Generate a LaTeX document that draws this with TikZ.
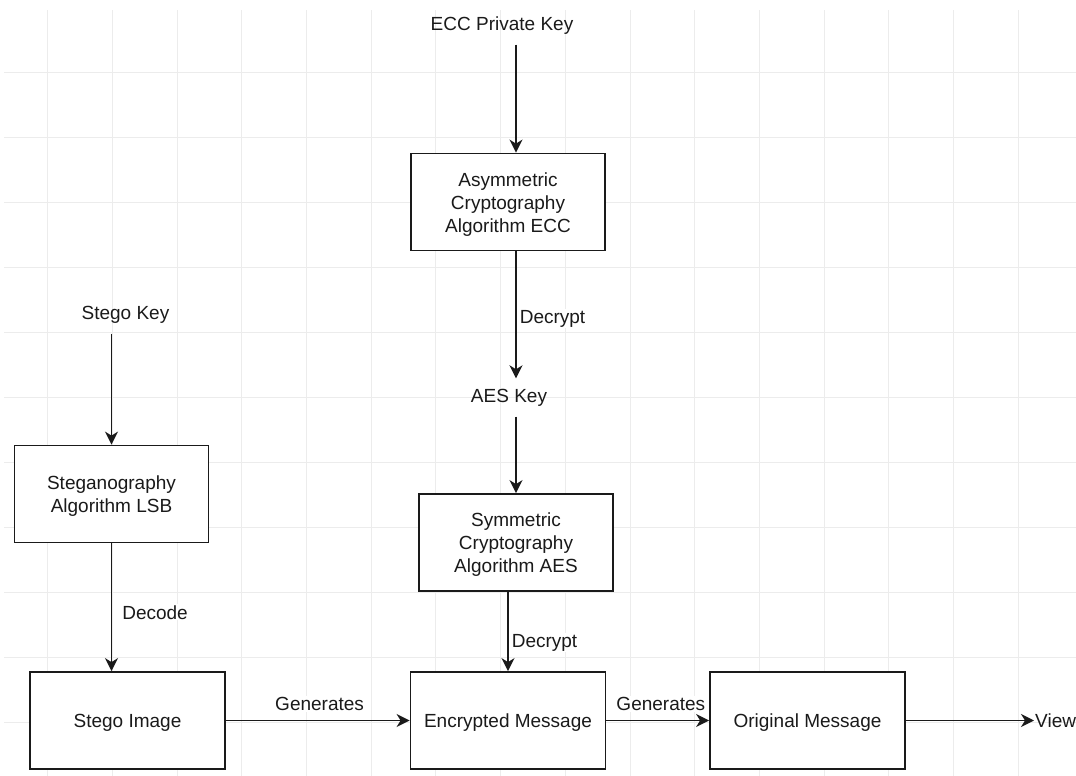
\documentclass[tikz,border=0pt]{standalone}
\usepackage{fontspec}
\setmainfont{Liberation Sans}
\usetikzlibrary{arrows.meta}
\definecolor{gridline}{HTML}{ECECEC}
\definecolor{ink}{HTML}{1A1A1A}

\begin{document}
\begin{tikzpicture}[x=1pt, y=-1pt,
  every node/.style={font=\fontsize{19}{23}\selectfont, text=ink},
  block/.style={draw=ink, line width=1.8pt, fill=white, minimum width=194pt,
                minimum height=97pt, inner sep=0pt},
  blocktext/.style={align=center, inner sep=0pt, yshift=-2.5pt},
  term/.style={minimum height=38pt, inner sep=0pt, align=center},
  lbl/.style={inner sep=1pt, fill=white},
  arr/.style={draw=ink, line width=1.6pt,
              -{Stealth[length=13pt, width=13pt, inset=4pt]}},
]
\useasboundingbox (0,0) rectangle (1076,776);

% background grid
\foreach \k in {0,...,15}
  \draw[gridline, line width=1pt] ({47.7+64.7*\k},10) -- ({47.7+64.7*\k},776);
\foreach \k in {0,...,10}
  \draw[gridline, line width=1pt] (4,{72.3+65*\k}) -- (1076,{72.3+65*\k});

% key inputs and processing blocks
\node[term] (ecckey) at (502,25.5) {ECC Private Key};
\node[block, label={[blocktext]center:Asymmetric\\Cryptography\\Algorithm ECC}]
  (ecc) at (508,202) {};
\node[term] (aeskey) at (509,397.5) {AES Key};
\node[block, label={[blocktext]center:Symmetric\\Cryptography\\Algorithm AES}]
  (aes) at (516,542.5) {};
\node[term] (stegokey) at (125.5,314.5) {Stego Key};
\node[block, label={[blocktext]center:Steganography\\Algorithm LSB}]
  (lsb) at (111.5,494) {};
\node[block, minimum width=195pt, label={[blocktext]center:Stego Image}]
  (stego) at (127.5,720.5) {};
\node[block, minimum width=195pt, label={[blocktext]center:Encrypted Message}]
  (enc) at (508,720.5) {};
\node[block, minimum width=195pt, label={[blocktext]center:Original Message}]
  (orig) at (807.5,720.5) {};
\node[anchor=west, inner sep=1pt] (view) at (1034,720.5) {View};

% flow
\draw[arr] ([xshift=14pt]ecckey.south) -- ([xshift=8pt]ecc.north);
\draw[arr] ([xshift=8pt]ecc.south) -- ([xshift=7pt]aeskey.north)
  node[lbl, pos=0.53, right=2pt] {Decrypt};
\draw[arr] ([xshift=7pt]aeskey.south) -- (aes.north);
\draw[arr] ([xshift=-8pt]aes.south) -- (enc.north)
  node[lbl, pos=0.64, right=2pt] {Decrypt};
\draw[arr] ([xshift=-14pt]stegokey.south) -- (lsb.north);
\draw[arr] (lsb.south) -- ([xshift=-16pt]stego.north)
  node[lbl, pos=0.54, right=9pt] {Decode};
\draw[arr] (stego.east) -- (enc.west)
  node[lbl, pos=0.51, above=8pt] {Generates};
\draw[arr] (enc.east) -- (orig.west)
  node[lbl, pos=0.53, above=8pt] {Generates};
\draw[arr] (orig.east) -- (view.west);
\end{tikzpicture}
\end{document}
